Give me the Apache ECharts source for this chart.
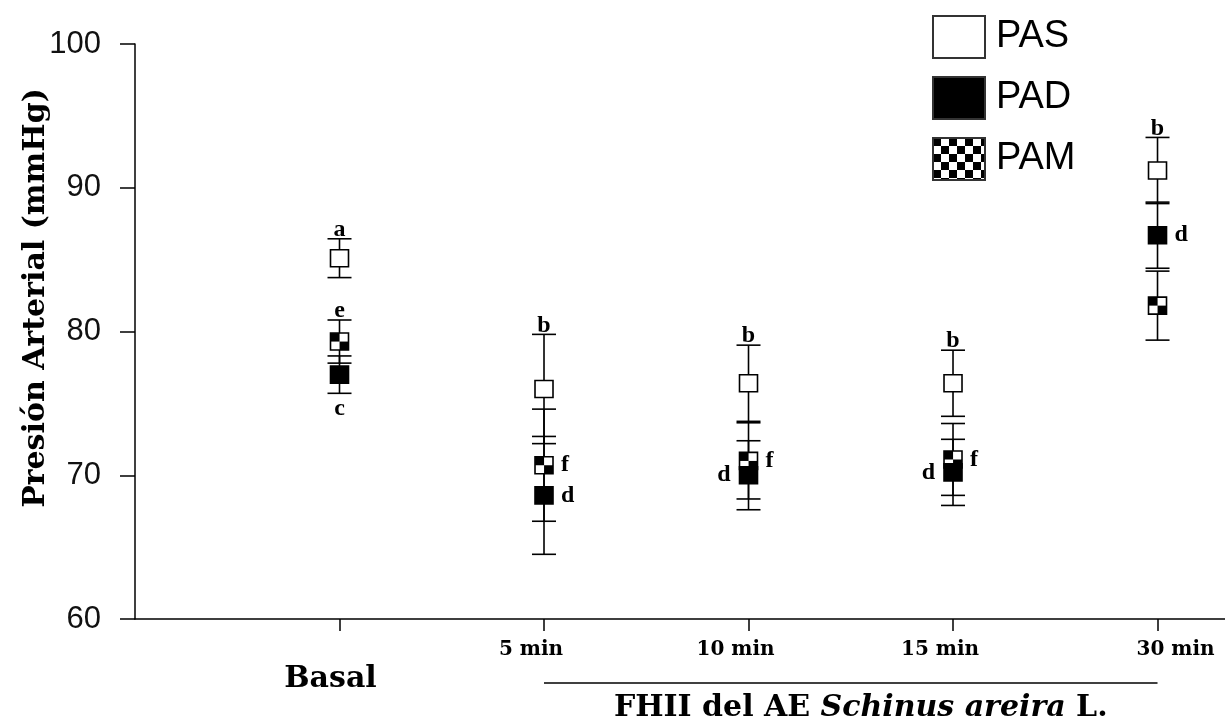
<!DOCTYPE html>
<html>
<head>
<meta charset="utf-8">
<script src="https://cdn.jsdelivr.net/npm/echarts@6/dist/echarts.min.js"></script>
<style>html,body{margin:0;padding:0;background:#fff}#c{width:1225px;height:725px}</style>
</head>
<body>
<div id="c"></div>
<script>
// ---- data ----
const categories = ['Basal', '5 min', '10 min', '15 min', '30 min'];
const xPositions = [1, 2, 3, 4, 5];
const yTicks = [60, 70, 80, 90, 100];

const pasMean = [85.1, 76.0, 76.4, 76.4, 91.2];
const pasErr  = [1.35, 3.8, 2.65, 2.3, 2.3];
const padMean = [77.0, 68.6, 70.0, 70.2, 86.7];
const padErr  = [1.3, 4.1, 2.4, 2.3, 2.3];
const pamMean = [79.3, 70.7, 71.0, 71.1, 81.8];
const pamErr  = [1.5, 3.9, 2.65, 2.5, 2.4];

const pasLetters = ['a', 'b', 'b', 'b', 'b'];
const pasLetterPos = ['top', 'top', 'top', 'top', 'top'];
const padLetters = ['c', 'd', 'd', 'd', 'd'];
const padLetterPos = ['bottom', 'right', 'left', 'left', 'right'];
const pamLetters = ['e', 'f', 'f', 'f', ''];
const pamLetterPos = ['top', 'right', 'right', 'right', ''];

const treatmentLabel = ['FHII del AE ', 'Schinus areira', ' L.'];
const yTitle = 'Presión Arterial (mmHg)';

// ---- checker patterns for PAM ----
function makeChecker(cell) {
  const c = document.createElement('canvas');
  c.width = cell * 2; c.height = cell * 2;
  const g = c.getContext('2d');
  g.fillStyle = '#fff'; g.fillRect(0, 0, cell * 2, cell * 2);
  g.fillStyle = '#000'; g.fillRect(0, 0, cell, cell); g.fillRect(cell, cell, cell, cell);
  return { image: c, repeat: 'repeat' };
}
const checkerMarker = makeChecker(9);
const checkerLegend = makeChecker(8);

const chart = echarts.init(document.getElementById('c'), null, { renderer: 'canvas' });

function errData(mean, err, letters, pos) {
  return xPositions.map((x, i) => [x, mean[i], err[i], letters[i], pos[i]]);
}

function errRender(params, api) {
  const x = api.value(0), m = api.value(1), e = api.value(2);
  const letter = api.value(3), pos = api.value(4);
  const top = api.coord([x, m + e]);
  const bot = api.coord([x, m - e]);
  const mid = api.coord([x, m]);
  const hw = 12;
  const ls = { stroke: '#000', lineWidth: 1.6 };
  const children = [
    { type: 'line', shape: { x1: top[0], y1: top[1], x2: bot[0], y2: bot[1] }, style: ls },
    { type: 'line', shape: { x1: top[0] - hw, y1: top[1], x2: top[0] + hw, y2: top[1] }, style: ls },
    { type: 'line', shape: { x1: bot[0] - hw, y1: bot[1], x2: bot[0] + hw, y2: bot[1] }, style: ls }
  ];
  if (letter) {
    let tx = mid[0], ty = mid[1], align = 'center', va = 'middle';
    if (pos === 'top') { ty = top[1] + 3; va = 'bottom'; }
    else if (pos === 'bottom') { ty = bot[1] + 3; va = 'top'; }
    else if (pos === 'right') { tx = mid[0] + 17; align = 'left'; }
    else if (pos === 'left') { tx = mid[0] - 18; align = 'right'; }
    children.push({
      type: 'text',
      style: { x: tx, y: ty, text: letter, align: align, verticalAlign: va,
        font: 'bold 24px "Liberation Serif"', fill: '#000' }
    });
  }
  return { type: 'group', children: children };
}

function markerRender(fill) {
  return function (params, api) {
    const c = api.coord([api.value(0), api.value(1)]);
    return {
      type: 'group', x: c[0], y: c[1],
      children: [{ type: 'rect', shape: { x: -9, y: -8.5, width: 18, height: 17 },
        style: { fill: fill, stroke: '#000', lineWidth: 1.6 } }]
    };
  };
}

function markerData(mean) { return xPositions.map((x, i) => [x, mean[i]]); }

chart.setOption({
  animation: false,
  backgroundColor: '#fff',
  grid: { left: 135, right: 0, top: 44, bottom: 106 },
  legend: {
    orient: 'vertical', left: 927, top: 10,
    itemWidth: 52, itemHeight: 42, itemGap: 17,
    icon: 'rect',
    data: [
      { name: 'PAS', itemStyle: { color: '#fff', borderColor: '#333', borderWidth: 2 } },
      { name: 'PAD', itemStyle: { color: '#000', borderColor: '#333', borderWidth: 2 } },
      { name: 'PAM', itemStyle: { color: checkerLegend, borderColor: '#333', borderWidth: 2 } }
    ],
    textStyle: { fontFamily: 'Liberation Sans', fontSize: 38, color: '#000', padding: [0, 0, 0, 6] }
  },
  xAxis: {
    type: 'value', min: 0, max: 5.33,
    axisLine: { show: true, lineStyle: { color: '#000', width: 1.5 } },
    axisTick: { show: true, length: 12, customValues: xPositions, lineStyle: { color: '#000', width: 1.5 } },
    splitLine: { show: false },
    axisLabel: {
      customValues: xPositions, margin: 21,
      formatter: function (v) {
        const i = Math.round(v) - 1;
        const t = categories[i];
        if (i === 0) return '{b|' + t + '}';
        if (i === 4) return '{r|' + t + '}';
        return '{m|' + t + '}';
      },
      rich: {
        b: { fontFamily: 'DejaVu Serif', fontWeight: 'bold', fontSize: 30, color: '#000', padding: [24, 18, 0, 0] },
        m: { fontFamily: 'DejaVu Serif', fontWeight: 'bold', fontSize: 20, color: '#000', padding: [0, 26, 0, 0] },
        r: { fontFamily: 'DejaVu Serif', fontWeight: 'bold', fontSize: 20, color: '#000', padding: [0, 0, 0, 36] }
      }
    }
  },
  yAxis: {
    type: 'value', min: yTicks[0], max: yTicks[yTicks.length - 1], interval: 10,
    axisLine: { show: true, lineStyle: { color: '#000', width: 1.5 } },
    axisTick: { show: true, length: 15, lineStyle: { color: '#000', width: 1.5 } },
    splitLine: { show: false },
    axisLabel: { margin: 34, fontFamily: 'Liberation Sans', fontSize: 31, color: '#111' }
  },
  series: [
    { type: 'custom', name: 'ePAS', renderItem: errRender, data: errData(pasMean, pasErr, pasLetters, pasLetterPos), z: 1 },
    { type: 'custom', name: 'ePAM', renderItem: errRender, data: errData(pamMean, pamErr, pamLetters, pamLetterPos), z: 1 },
    { type: 'custom', name: 'ePAD', renderItem: errRender, data: errData(padMean, padErr, padLetters, padLetterPos), z: 1 },
    { type: 'custom', name: 'PAS', z: 3, renderItem: markerRender('#fff'),
      itemStyle: { color: '#fff', borderColor: '#000' }, data: markerData(pasMean) },
    { type: 'custom', name: 'PAM', z: 3, renderItem: markerRender(checkerMarker),
      itemStyle: { color: '#888', borderColor: '#000' }, data: markerData(pamMean) },
    { type: 'custom', name: 'PAD', z: 4, renderItem: markerRender('#000'),
      itemStyle: { color: '#000', borderColor: '#000' }, data: markerData(padMean) }
  ]
});

// annotations positioned from the axes
const p1 = chart.convertToPixel({ gridIndex: 0 }, [xPositions[1], yTicks[0]]);
const p2 = chart.convertToPixel({ gridIndex: 0 }, [xPositions[4], yTicks[0]]);
const lineY = p1[1] + 64;
chart.setOption({
  graphic: [
    { type: 'line', shape: { x1: p1[0], y1: lineY, x2: p2[0], y2: lineY }, style: { stroke: '#000', lineWidth: 1.5 } },
    { type: 'text', x: (p1[0] + p2[0]) / 2 + 10, y: lineY + 25,
      style: {
        text: '{n|' + treatmentLabel[0] + '}{i|' + treatmentLabel[1] + '}{n|' + treatmentLabel[2] + '}',
        align: 'center', verticalAlign: 'middle',
        rich: {
          n: { fontFamily: 'DejaVu Serif', fontWeight: 'bold', fontSize: 30, fill: '#000' },
          i: { fontFamily: 'DejaVu Serif', fontWeight: 'bold', fontStyle: 'italic', fontSize: 30, fill: '#000' }
        }
      } },
    { type: 'text', x: 36, y: 298, rotation: Math.PI / 2,
      style: { text: yTitle, align: 'center', verticalAlign: 'middle',
        font: 'bold 30px "DejaVu Serif"', fill: '#000' } }
  ]
});
</script>
</body>
</html>
